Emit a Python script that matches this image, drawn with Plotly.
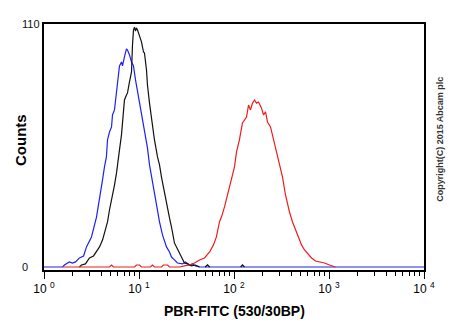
import plotly.graph_objects as go

# ---- data (fluorescence intensity, counts) ----
blue_x = [1, 1.57, 1.64, 1.77, 1.85, 1.99, 2.15, 2.36, 2.61, 2.80, 3.16, 3.57, 3.84, 4.13, 4.33, 4.54, 4.66, 4.89, 5.14, 5.26,
          5.52, 5.80, 5.94, 6.23, 6.54, 6.70, 7.03, 7.38, 7.57, 7.94, 8.34, 8.75, 9.19, 9.65, 10.12, 10.62, 11.15, 11.70, 12.28, 12.9,
          13.87, 14.55, 15.30, 16.44, 17.67, 18.55, 19.47, 20.94, 21.98, 23.6, 25.4, 28.7, 30.8, 34.0, 36.6, 39.3, 43.4, 10000]
blue_y = [0, 0, 0.9, 1.8, 2.3, 1.8, 2.3, 4.1, 5.0, 9.1, 13.6, 22.6, 30.3, 39.4, 45.3, 49.8, 57.5, 61.1, 63.4, 68.8,
          71.1, 78.8, 84.7, 91.0, 92.8, 91.0, 95.1, 98.7, 98.2, 96.0, 92.8, 91.0, 84.7, 79.2, 75.6, 68.8, 62.9, 59.3, 53.9, 46.2,
          38.0, 33.5, 27.2, 20.4, 14.5, 12.2, 9.1, 6.8, 4.5, 3.2, 1.8, 1.4, 2.3, 0.9, 1.4, 0.5, 0, 0]

black_x = [2.36, 2.48, 2.73, 3.01, 3.32, 3.57, 3.84, 4.13, 4.44, 4.66, 4.89, 5.26, 5.52, 5.80, 6.08, 6.23, 6.54, 6.87, 7.03, 7.38,
           7.57, 7.94, 8.34, 8.54, 8.75, 8.97, 9.19, 9.41, 9.65, 10.12, 10.62, 11.15, 11.42, 11.99, 12.28, 12.9, 13.55, 14.55, 15.66, 16.44,
           17.25, 18.55, 19.95, 20.94, 21.98, 23.6, 25.4, 26.7, 28.7, 30.1, 32.4, 35.7, 39.3, 43.4, None, 49.7, 52.6, 55.4, None,
           117.4, 122.8, 128.9]
black_y = [0, 0.9, 1.4, 4.1, 5.0, 6.8, 9.1, 12.2, 16.7, 20.4, 25.8, 31.7, 37.1, 42.6, 48.4, 53.0, 59.8, 70.2, 75.6, 77.9,
           78.8, 83.8, 88.3, 100.5, 107.3, 108.6, 106.8, 108.2, 107.3, 104.6, 101.9, 97.3, 96.9, 89.2, 82.4, 74.2, 66.5, 57.5, 49.8, 46.2,
           40.7, 33.5, 25.8, 22.2, 18.1, 10.9, 8.1, 6.3, 4.1, 1.8, 1.4, 0.5, 0.9, 0, None, 0, 1, 0, None,
           0, 1, 0]

red_x = [1.57, 4.89, 5.14, 5.39, 8.97, 9.41, 10.12, 10.62, 13.2, 13.87, 14.55, 17.25, 18.1, 19.95, 20.94, 26.7, 30.1, 34.0, 38.4, 43.4,
         48.9, 55.4, 60.8, 65.3, 70.3, 73.7, 79.5, 85.5, 89.5, 96.2, 101.2, 106.3, 114.0, 122.8, 129.0, 135.5, 142.2, 149.2, 156.6, 164.4,
         172.6, 181.1, 194.5, 204.6, 214.7, 225.3, 242.3, 254.3, 273.5, 287.0, 301.3, 324.2, 348.4, 365.6, 383.7, 413.0, 443.6, 477.5, 514.0, 552.1,
         594.3, 654.6, 721.1, 794.3, 897.4, 1011.6, 1114.3, 1169.5]
red_y = [0, 0, 0.9, 0, 0, 0.9, 0.9, 0, 0, 0.9, 0, 0, 0.9, 0.9, 0, 0, 0.5, 0.9, 1.8, 3.2,
         4.1, 6.8, 10.0, 13.6, 20.4, 22.6, 27.2, 32.6, 36.2, 42.6, 45.3, 52.1, 57.5, 65.2, 66.5, 67.9, 73.3, 71.1, 74.2, 75.6,
         74.2, 74.7, 72.0, 68.8, 70.2, 65.6, 63.4, 59.8, 53.9, 50.7, 46.2, 40.7, 32.6, 28.1, 24.9, 20.4, 16.7, 13.1, 10.0, 7.7,
         5.9, 4.1, 2.7, 2.3, 1.8, 0.9, 0.5, 0]

x_tickvals = [1, 10, 100, 1000, 10000]
x_ticktext = ["10 <sup>0</sup>", "10 <sup>1</sup>", "10 <sup>2</sup>", "10 <sup>3</sup>", "10 <sup>4</sup>"]
x_minor = [m * d for d in [1, 10, 100, 1000] for m in range(2, 10)]
y_labels = [110, 0]

FONT = "Arial, 'Liberation Sans', sans-serif"

fig = go.Figure()
fig.add_trace(go.Scatter(x=blue_x, y=blue_y, mode="lines", line=dict(color="#2020ee", width=1.2), showlegend=False))
fig.add_trace(go.Scatter(x=black_x, y=black_y, mode="lines", line=dict(color="#111111", width=1.2), showlegend=False))
fig.add_trace(go.Scatter(x=red_x, y=red_y, mode="lines", line=dict(color="#ee1c1c", width=1.2), showlegend=False))

fig.update_layout(
    width=450, height=330,
    margin=dict(l=44, r=26, t=24, b=60),
    paper_bgcolor="white", plot_bgcolor="white",
    font=dict(family=FONT, color="#000"),
    xaxis=dict(
        type="log", range=[0, 4],
        tickvals=x_tickvals, ticktext=x_ticktext,
        ticks="outside", ticklen=7, tickwidth=1, tickcolor="#000",
        tickfont=dict(size=12, color="#000"),
        minor=dict(tickvals=x_minor, ticks="outside", ticklen=4, tickcolor="#000", tickwidth=1),
        showline=True, linecolor="#000", linewidth=1.5, mirror=True,
        showgrid=False, zeroline=False,
    ),
    yaxis=dict(
        range=[-1.36, 110],
        showticklabels=False, ticks="",
        showline=True, linecolor="#000", linewidth=1.5, mirror=True,
        showgrid=False, zeroline=False,
    ),
)

for v in y_labels:
    fig.add_annotation(x=-0.063, xref="paper", y=v, yref="y", text=str(v), showarrow=False,
                       xanchor="left", yanchor="middle", font=dict(size=11, color="#111"))

fig.add_annotation(x=-0.0605, xref="paper", y=57.5, yref="y", text="<b>Counts</b>", textangle=-90,
                   showarrow=False, xanchor="center", yanchor="middle", font=dict(size=15, color="#000"))
fig.add_annotation(x=0.5, xref="paper", y=-0.1667, yref="paper", text="<b>PBR-FITC (530/30BP)</b>",
                   showarrow=False, xanchor="center", yanchor="middle", font=dict(size=14, color="#000"))
fig.add_annotation(x=1.04, xref="paper", y=0.53, yref="paper", text="<b>Copyright(C) 2015 Abcam plc</b>",
                   textangle=-90, showarrow=False, xanchor="center", yanchor="middle", font=dict(size=9, color="#333"))

fig.write_html("out.html")
